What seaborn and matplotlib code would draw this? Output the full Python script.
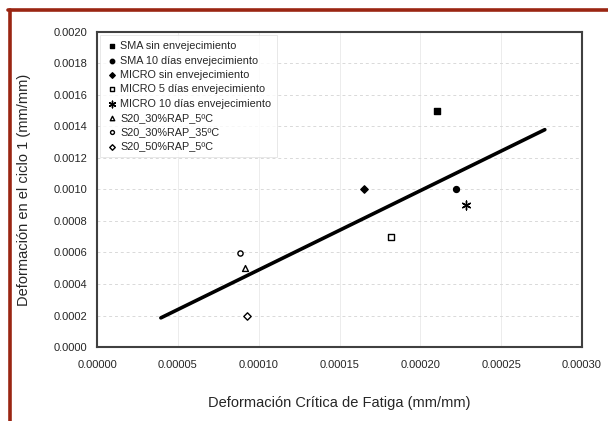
import numpy as np
import pandas as pd
import matplotlib
matplotlib.use("Agg")
import matplotlib.pyplot as plt
from matplotlib.lines import Line2D
import seaborn as sns

series = ["SMA sin envejecimiento", "SMA 10 días envejecimiento", "MICRO sin envejecimiento",
          "MICRO 5 días envejecimiento", "MICRO 10 días envejecimiento", "S20_30%RAP_5ºC",
          "S20_30%RAP_35ºC", "S20_50%RAP_5ºC"]
crit_strain = [0.000210, 0.000222, 0.000165, 0.000182, 0.000228, 0.0000915, 0.0000885, 0.0000925]
cycle1_strain = [0.0015, 0.0010, 0.0010, 0.0007, 0.0009, 0.0005, 0.0006, 0.0002]
marker_list = ["s", "o", "D", "s", (6, 2, 0), "^", "o", "D"]
filled = [True, True, True, False, True, False, False, False]
marker_size = [16, 18, 14, 14, 40, 18, 14, 14]

trend_x = [0.0000395, 0.000277]
trend_y = [0.000185, 0.00138]

x_ticks = np.arange(0, 0.00030001, 0.00005)
y_ticks = np.arange(0, 0.0020001, 0.0002)

sns.set_style("white")
plt.rcParams['font.family'] = ['Liberation Sans', 'DejaVu Sans']

fig = plt.figure(figsize=(6.08, 4.21), dpi=100)
ax = fig.add_axes([97/608, 1-347/421, (582-97)/608, (347-32)/421])

df = pd.DataFrame({"serie": series, "x": crit_strain, "y": cycle1_strain})
for i, row in df.iterrows():
    sns.scatterplot(x=[row["x"]], y=[row["y"]], ax=ax, marker=marker_list[i],
                    s=marker_size[i], color="black" if filled[i] else "white",
                    edgecolor="black", linewidth=1.0, label=row["serie"], zorder=4)

sns.lineplot(x=trend_x, y=trend_y, ax=ax, color="black", linewidth=2.6, zorder=3)

ax.set_xlim(0, 0.0003)
ax.set_ylim(0, 0.002)
ax.set_xticks(x_ticks)
ax.set_yticks(y_ticks)
ax.set_xticklabels([f"{v:.5f}" for v in x_ticks], fontsize=8)
ax.set_yticklabels([f"{v:.4f}" for v in y_ticks], fontsize=8)
ax.tick_params(axis="both", length=0)
ax.tick_params(axis="x", pad=9)
ax.tick_params(axis="y", pad=7)

ax.yaxis.grid(True, color="#d9d9d9", linestyle=(0, (3, 3)), linewidth=0.7)
ax.xaxis.grid(True, color="#ececec", linestyle="-", linewidth=0.7)
ax.set_axisbelow(True)
for sp in ax.spines.values():
    sp.set_color("#404040")
    sp.set_linewidth(1.5)

ax.set_xlabel("Deformación Crítica de Fatiga (mm/mm)", fontsize=10.5, labelpad=19)
ax.set_ylabel("Deformación en el ciclo 1 (mm/mm)", fontsize=10.5, labelpad=16)

leg = ax.legend(loc="upper left", fontsize=7.8, frameon=True, fancybox=False,
                borderaxespad=0.3, labelspacing=0.4, handletextpad=0.3,
                handlelength=1.0, borderpad=0.55, markerscale=0.75)
leg.get_frame().set_edgecolor("#dddddd")
leg.get_frame().set_linewidth(0.6)

# dark red page frame
fig.add_artist(Line2D([8/608, 1], [1-10/421, 1-10/421], color="#9a2512", linewidth=2.6))
fig.add_artist(Line2D([9.5/608, 9.5/608], [0, 1-10/421], color="#9a2512", linewidth=2.6))

fig.savefig("out.png", dpi=100)
